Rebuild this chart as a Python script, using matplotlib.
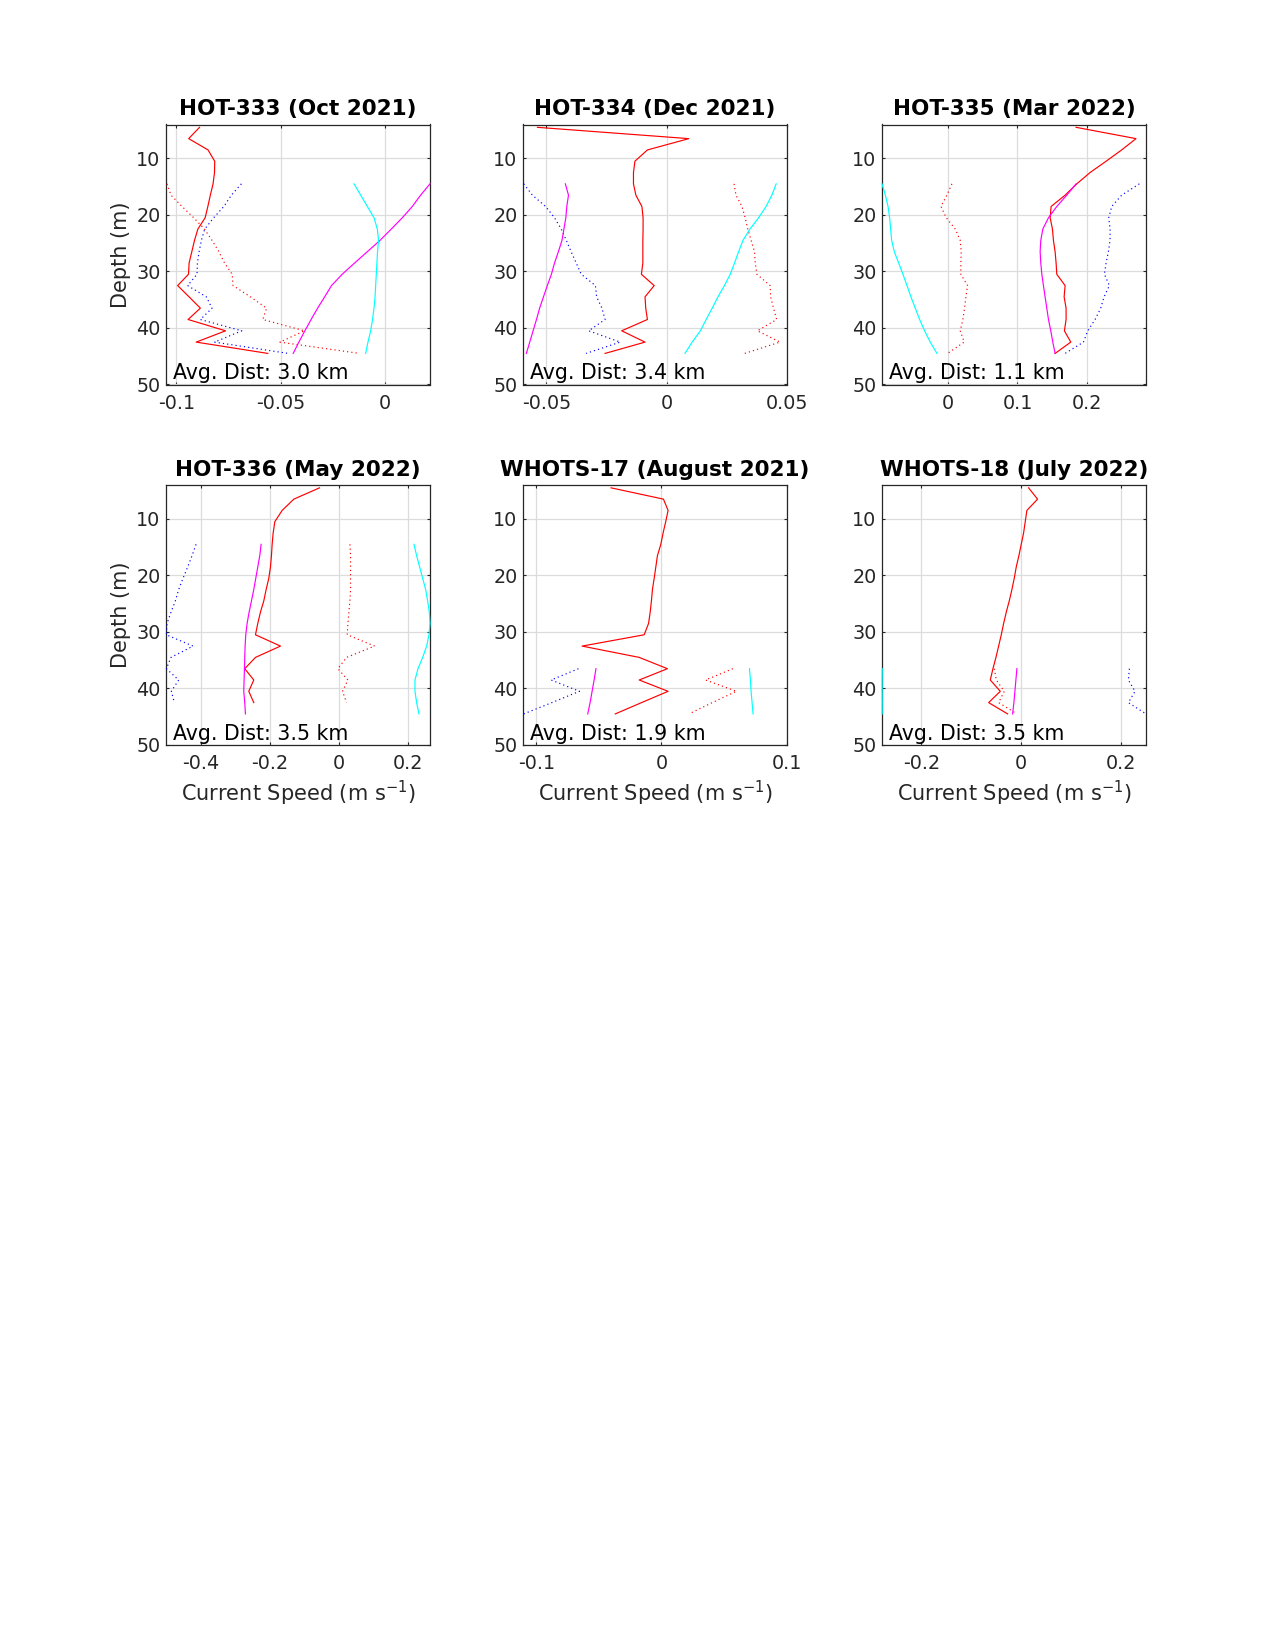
import matplotlib
matplotlib.use('Agg')
import matplotlib.pyplot as plt
from matplotlib.ticker import FuncFormatter

# depth bins (m)
depth_full = [4.5, 6.5, 8.5, 10.5, 12.5, 14.5, 16.5, 18.5, 20.5, 22.5, 24.5,
              26.5, 28.5, 30.5, 32.5, 34.5, 36.5, 38.5, 40.5, 42.5, 44.5]
depth_low = [14.5, 16.5, 18.5, 20.5, 22.5, 24.5, 26.5, 28.5, 30.5, 32.5,
             34.5, 36.5, 38.5, 40.5, 42.5, 44.5]
depth_deep = [36.5, 38.5, 40.5, 42.5, 44.5]

titles = ['HOT-333 (Oct 2021)', 'HOT-334 (Dec 2021)', 'HOT-335 (Mar 2022)',
          'HOT-336 (May 2022)', 'WHOTS-17 (August 2021)', 'WHOTS-18 (July 2022)']
avg_dist = [3.0, 3.4, 1.1, 3.5, 1.9, 3.5]
xticks = [[-0.1, -0.05, 0], [-0.05, 0, 0.05], [0, 0.1, 0.2],
          [-0.4, -0.2, 0, 0.2], [-0.1, 0, 0.1], [-0.2, 0, 0.2]]
xlims = [(-0.1050, 0.0218), (-0.0597, 0.0499), (-0.0938, 0.2838),
         (-0.5005, 0.2638), (-0.1106, 0.1003), (-0.2790, 0.2500)]

# HOT-333
h333_red = [-0.0889, -0.0941, -0.0848, -0.0816, -0.0817, -0.0824, -0.0837, -0.0849,
            -0.0862, -0.0897, -0.0913, -0.0926, -0.0939, -0.0942, -0.0994, -0.0939,
            -0.0885, -0.0944, -0.0764, -0.0905, -0.0561]
h333_blue = [-0.0688, -0.0736, -0.0772, -0.0821, -0.0864, -0.0880, -0.0891, -0.0899,
             -0.0901, -0.0946, -0.0856, -0.0829, -0.0885, -0.0686, -0.0817, -0.0463]
h333_reddot = [-0.1045, -0.1026, -0.0973, -0.0917, -0.0865, -0.0829, -0.0796, -0.0769,
               -0.0732, -0.0728, -0.0644, -0.0567, -0.0585, -0.0385, -0.0503, -0.0120]
h333_mag = [0.0218, 0.0173, 0.0133, 0.0085, 0.0032, -0.0022, -0.0083, -0.0144,
            -0.0204, -0.0255, -0.0288, -0.0322, -0.0353, -0.0383, -0.0412, -0.0439]
h333_cyan = [-0.0147, -0.0115, -0.0083, -0.0051, -0.0035, -0.0029, -0.0034, -0.0037,
             -0.0040, -0.0043, -0.0046, -0.0051, -0.0058, -0.0067, -0.0080, -0.0091]

# HOT-334
h334_red = [-0.0537, 0.0092, -0.0080, -0.0132, -0.0138, -0.0138, -0.0128, -0.0103,
            -0.0098, -0.0098, -0.0099, -0.0099, -0.0099, -0.0105, -0.0052, -0.0090,
            -0.0087, -0.0080, -0.0187, -0.0090, -0.0256]
h334_blue = [-0.0594, -0.0558, -0.0503, -0.0466, -0.0438, -0.0417, -0.0397, -0.0376,
             -0.0355, -0.0296, -0.0291, -0.0269, -0.0256, -0.0324, -0.0193, -0.0335]
h334_reddot = [0.0280, 0.0288, 0.0313, 0.0326, 0.0337, 0.0351, 0.0365, 0.0368,
               0.0375, 0.0430, 0.0432, 0.0444, 0.0457, 0.0377, 0.0471, 0.0324]
h334_mag = [-0.0421, -0.0408, -0.0415, -0.0419, -0.0427, -0.0435, -0.0450, -0.0466,
            -0.0479, -0.0496, -0.0512, -0.0528, -0.0541, -0.0555, -0.0569, -0.0583]
h334_cyan = [0.0455, 0.0437, 0.0413, 0.0382, 0.0346, 0.0317, 0.0299, 0.0282,
             0.0264, 0.0240, 0.0213, 0.0189, 0.0164, 0.0140, 0.0106, 0.0076]

# HOT-335
h335_red = [0.1838, 0.2695, 0.2490, 0.2267, 0.2038, 0.1848, 0.1681, 0.1481,
            0.1467, 0.1500, 0.1514, 0.1538, 0.1552, 0.1562, 0.1681, 0.1667,
            0.1695, 0.1695, 0.1671, 0.1762, 0.1538]
h335_blue = [0.2743, 0.2490, 0.2348, 0.2305, 0.2324, 0.2324, 0.2300, 0.2267,
             0.2243, 0.2314, 0.2238, 0.2190, 0.2110, 0.2005, 0.1943, 0.1681]
h335_reddot = [0.0062, -0.0010, -0.0095, -0.0019, 0.0110, 0.0181, 0.0195, 0.0190,
               0.0190, 0.0286, 0.0262, 0.0243, 0.0219, 0.0181, 0.0238, 0.0000]
h335_mag = [0.1838, 0.1705, 0.1562, 0.1443, 0.1362, 0.1333, 0.1324, 0.1333,
            0.1348, 0.1371, 0.1395, 0.1419, 0.1443, 0.1476, 0.1505, 0.1538]
h335_cyan = [-0.0938, -0.0890, -0.0852, -0.0829, -0.0814, -0.0800, -0.0762, -0.0700,
             -0.0638, -0.0581, -0.0524, -0.0462, -0.0400, -0.0329, -0.0248, -0.0152]

# HOT-336 (red solid, blue and red dotted stop at 42.5 m)
h336_red = [-0.0560, -0.1304, -0.1643, -0.1855, -0.1903, -0.1932, -0.1952, -0.1981,
            -0.2029, -0.2106, -0.2174, -0.2271, -0.2348, -0.2415, -0.1691, -0.2415,
            -0.2725, -0.2464, -0.2609, -0.2464]
h336_blue = [-0.4135, -0.4251, -0.4377, -0.4512, -0.4638, -0.4734, -0.4860, -0.4976,
             -0.4995, -0.4222, -0.4860, -0.4995, -0.4638, -0.4850, -0.4763]
h336_reddot = [0.0319, 0.0338, 0.0338, 0.0338, 0.0338, 0.0319, 0.0290, 0.0261,
               0.0242, 0.1034, 0.0222, -0.0029, 0.0261, 0.0106, 0.0222]
h336_mag = [-0.2251, -0.2290, -0.2348, -0.2406, -0.2464, -0.2531, -0.2599, -0.2657,
            -0.2696, -0.2715, -0.2725, -0.2734, -0.2744, -0.2754, -0.2725, -0.2705]
h336_cyan = [0.2174, 0.2251, 0.2338, 0.2425, 0.2512, 0.2570, 0.2618, 0.2638,
             0.2609, 0.2541, 0.2425, 0.2290, 0.2203, 0.2203, 0.2251, 0.2319]

# WHOTS-17
w17_red = [-0.0403, 0.0016, 0.0053, 0.0034, 0.0013, -0.0005, -0.0032, -0.0045,
           -0.0058, -0.0072, -0.0080, -0.0090, -0.0103, -0.0138, -0.0634, -0.0178,
           0.0048, -0.0178, 0.0053, -0.0159, -0.0369]
w17_blue = [-0.0663, -0.0881, -0.0655, -0.0875, -0.1101]
w17_reddot = [0.0570, 0.0353, 0.0599, 0.0406, 0.0220]
w17_mag = [-0.0523, -0.0538, -0.0554, -0.0570, -0.0589]
w17_cyan = [0.0703, 0.0711, 0.0716, 0.0724, 0.0732]

# WHOTS-18
w18_red = [0.0147, 0.0327, 0.0113, 0.0080, 0.0047, 0.0000, -0.0047, -0.0100,
           -0.0140, -0.0187, -0.0240, -0.0300, -0.0353, -0.0400, -0.0453, -0.0507,
           -0.0567, -0.0620, -0.0420, -0.0653, -0.0273]
w18_blue = [0.2167, 0.2147, 0.2280, 0.2147, 0.2500]
w18_reddot = [-0.0540, -0.0500, -0.0340, -0.0453, -0.0087]
w18_mag = [-0.0087, -0.0107, -0.0127, -0.0147, -0.0173]
w18_cyan = [-0.2785, -0.2787, -0.2787, -0.2786, -0.2787]

R, B, M, C = '#ff0000', '#0000ff', '#ff00ff', '#00ffff'
SOLID, DOT = '-', (0, (1, 2.6))

panels = [
    [(h333_red, depth_full, R, SOLID), (h333_blue, depth_low, B, DOT),
     (h333_reddot, depth_low, R, DOT), (h333_mag, depth_low, M, SOLID),
     (h333_cyan, depth_low, C, SOLID)],
    [(h334_red, depth_full, R, SOLID), (h334_blue, depth_low, B, DOT),
     (h334_reddot, depth_low, R, DOT), (h334_mag, depth_low, M, SOLID),
     (h334_cyan, depth_low, C, SOLID)],
    [(h335_red, depth_full, R, SOLID), (h335_blue, depth_low, B, DOT),
     (h335_reddot, depth_low, R, DOT), (h335_mag, depth_low, M, SOLID),
     (h335_cyan, depth_low, C, SOLID)],
    [(h336_red, depth_full[:-1], R, SOLID), (h336_blue, depth_low[:-1], B, DOT),
     (h336_reddot, depth_low[:-1], R, DOT), (h336_mag, depth_low, M, SOLID),
     (h336_cyan, depth_low, C, SOLID)],
    [(w17_red, depth_full, R, SOLID), (w17_blue, depth_deep, B, DOT),
     (w17_reddot, depth_deep, R, DOT), (w17_mag, depth_deep, M, SOLID),
     (w17_cyan, depth_deep, C, SOLID)],
    [(w18_red, depth_full, R, SOLID), (w18_blue, depth_deep, B, DOT),
     (w18_reddot, depth_deep, R, DOT), (w18_mag, depth_deep, M, SOLID),
     (w18_cyan, depth_deep, C, SOLID)],
]

plt.rcParams['font.family'] = 'DejaVu Sans'
plt.rcParams['mathtext.fontset'] = 'dejavusans'

W, H = 1275, 1650
fig = plt.figure(figsize=(12.75, 16.5), dpi=100)

col_left = [166, 523, 882]
row_bottom = [384.5, 745]
ax_w, ax_h = 264, 260
dark = '#262626'

fmt = FuncFormatter(lambda v, p: '%g' % v)

for i in range(6):
    r, c = divmod(i, 3)
    ax = fig.add_axes([col_left[c] / W, 1 - row_bottom[r] / H, ax_w / W, ax_h / H])
    for xs, ys, col, ls in panels[i]:
        # all values sit inside the limits, so no clipping needed; keeps edge lines visible
        ax.plot(xs, ys, color=col, linestyle=ls, linewidth=0.85, clip_on=False, zorder=3)
    ax.set_xlim(xlims[i])
    ax.set_ylim(50, 4)
    ax.set_xticks(xticks[i])
    ax.set_yticks([10, 20, 30, 40, 50])
    ax.xaxis.set_major_formatter(fmt)
    ax.grid(True, color='#dcdcdc', linewidth=0.9)
    ax.set_axisbelow(True)
    ax.tick_params(direction='in', length=2.5, width=0.8, colors=dark,
                   labelsize=13.8, top=True, right=True)
    ax.tick_params(axis='x', pad=6.5)
    ax.tick_params(axis='y', pad=4)
    for s in ax.spines.values():
        s.set_color(dark)
        s.set_linewidth(0.9)
    ax.set_title(titles[i], fontsize=15.5, fontweight='bold', pad=6.5)
    ax.text(0.027, 0.02, 'Avg. Dist: %.1f km' % avg_dist[i], transform=ax.transAxes,
            fontsize=14.8, va='baseline', ha='left', zorder=4)
    if c == 0:
        ax.set_ylabel('Depth (m)', fontsize=15, color=dark, labelpad=4)
    if r == 1:
        ax.set_xlabel('Current Speed (m s$^{-1}$)', fontsize=15, color=dark, labelpad=4)

fig.savefig('out.png', dpi=100)
